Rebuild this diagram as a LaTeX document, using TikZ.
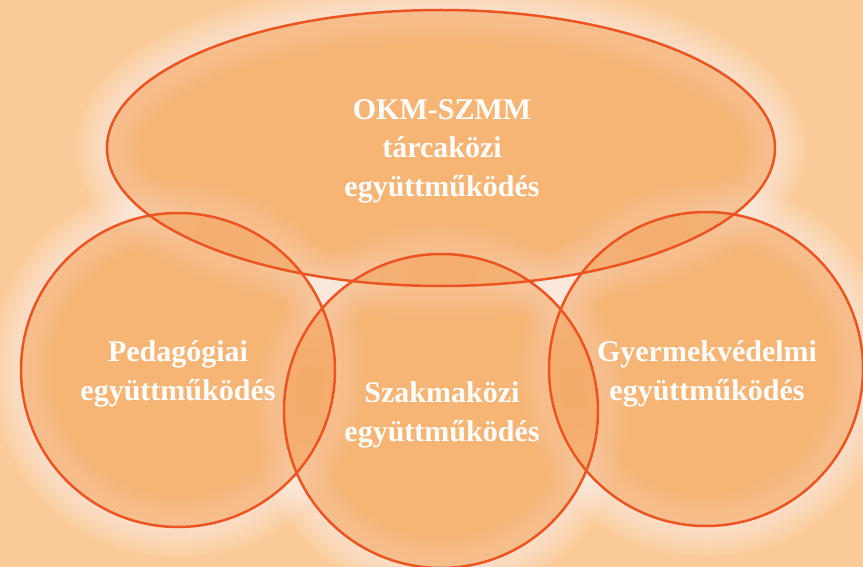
\documentclass[tikz,border=0pt]{standalone}
\usepackage{fontspec}
\setmainfont{Liberation Serif}
\definecolor{bgcol}{HTML}{FACA98}
\definecolor{fillcol}{HTML}{F39A4C}
\definecolor{linecol}{HTML}{EC5522}
\tikzset{
  glowline/.style={draw=white, draw opacity=0.045, line width=#1},
  shapefill/.style={fill=fillcol, fill opacity=0.45},
  shapeline/.style={draw=linecol, line width=2.5pt},
  label/.style={text=white, font=\fontsize{30}{38.5}\selectfont\bfseries, align=center, inner sep=0pt}
}
\begin{document}
\begin{tikzpicture}[x=1pt,y=-1pt]
\useasboundingbox (0,0) rectangle (863,567);
\fill[bgcol] (0,0) rectangle (863,567);
% soft glow around every outline
\foreach \w in {64,60,...,4}{
  \path[glowline=\w pt] (441,148) ellipse [x radius=334, y radius=138];
  \path[glowline=\w pt] (178,370) circle [radius=157];
  \path[glowline=\w pt] (441,411) circle [radius=157];
  \path[glowline=\w pt] (706,369) circle [radius=157];
}
% translucent fills
\path[shapefill] (441,148) ellipse [x radius=334, y radius=138];
\path[shapefill] (178,370) circle [radius=157];
\path[shapefill] (441,411) circle [radius=157];
\path[shapefill] (706,369) circle [radius=157];
% outlines
\path[shapeline] (441,148) ellipse [x radius=334, y radius=138];
\path[shapeline] (178,370) circle [radius=157];
\path[shapeline] (441,411) circle [radius=157];
\path[shapeline] (706,369) circle [radius=157];
% labels
\node[label] (okm) at (442,151) {OKM-SZMM\\tárcaközi\\együttműködés};
\node[label] (ped) at (178,374) {Pedagógiai\\együttműködés};
\node[label] (szak) at (442,415) {Szakmaközi\\együttműködés};
\node[label] (gyer) at (707,374) {Gyermekvédelmi\\együttműködés};
\end{tikzpicture}
\end{document}
